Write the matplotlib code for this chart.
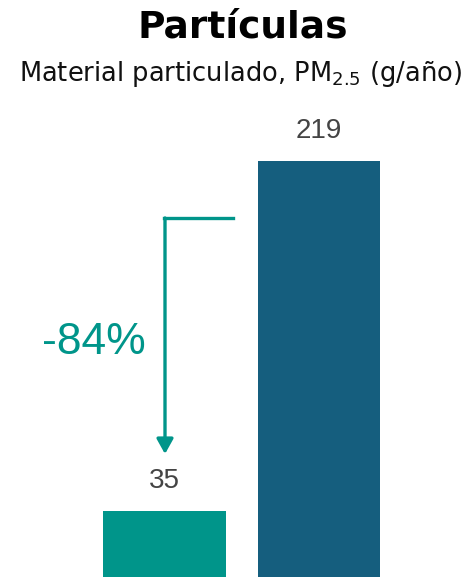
import matplotlib
matplotlib.use("Agg")
import matplotlib.pyplot as plt

categories = ["Escenario A", "Escenario B"]
values = [35, 219]
labels = ["35", "219"]
colors = ["#00958A", "#155E7E"]
change_label = "-84%"

plt.rcParams['mathtext.fontset'] = 'custom'
plt.rcParams['mathtext.rm'] = 'DejaVu Sans'
plt.rcParams['mathtext.it'] = 'DejaVu Sans'

fig = plt.figure(figsize=(4.75, 5.77), dpi=100)
ax = fig.add_axes([0, 0, 1, 1])
x = [0, 1]
ax.bar(x, values, width=0.79, color=colors)
ax.set_xlim(-1.065, 2.010)
ax.set_ylim(0, 303.8)
ax.axis('off')

for xi, v, lab in zip(x, values, labels):
    ax.annotate(lab, (xi, v), xytext=(0, 30), textcoords='offset pixels',
                ha='center', va='center', fontsize=20, color='#444444',
                family='Liberation Sans')

# arrow annotation (elbow)
tc = "#00958A"
fig.add_artist(plt.Line2D([233/475, 164/475], [1-218/577, 1-218/577],
                          color=tc, lw=2.4, transform=fig.transFigure,
                          solid_capstyle='projecting'))
ax.annotate('', xy=(165/475, 1-454/577), xytext=(165/475, 1-218/577),
            xycoords='figure fraction', textcoords='figure fraction',
            arrowprops=dict(arrowstyle='-|>,head_length=0.9,head_width=0.5',
                            color=tc, lw=2.4, shrinkA=0, shrinkB=0))
fig.text(94/475, 1-343/577, change_label, ha='center', va='center',
         fontsize=32, color=tc, family='Liberation Sans')

fig.text(243/475, 1-27/577, "Partículas", ha='center', va='center',
         fontsize=27, fontweight='bold', family='DejaVu Sans', color='#000000')
fig.text(240/475, 1-74/577, r"Material particulado, PM$_{2.5}$ (g/año)",
         ha='center', va='center', fontsize=18.5, family='DejaVu Sans', color='#111111')

fig.savefig("out.png", dpi=100)
